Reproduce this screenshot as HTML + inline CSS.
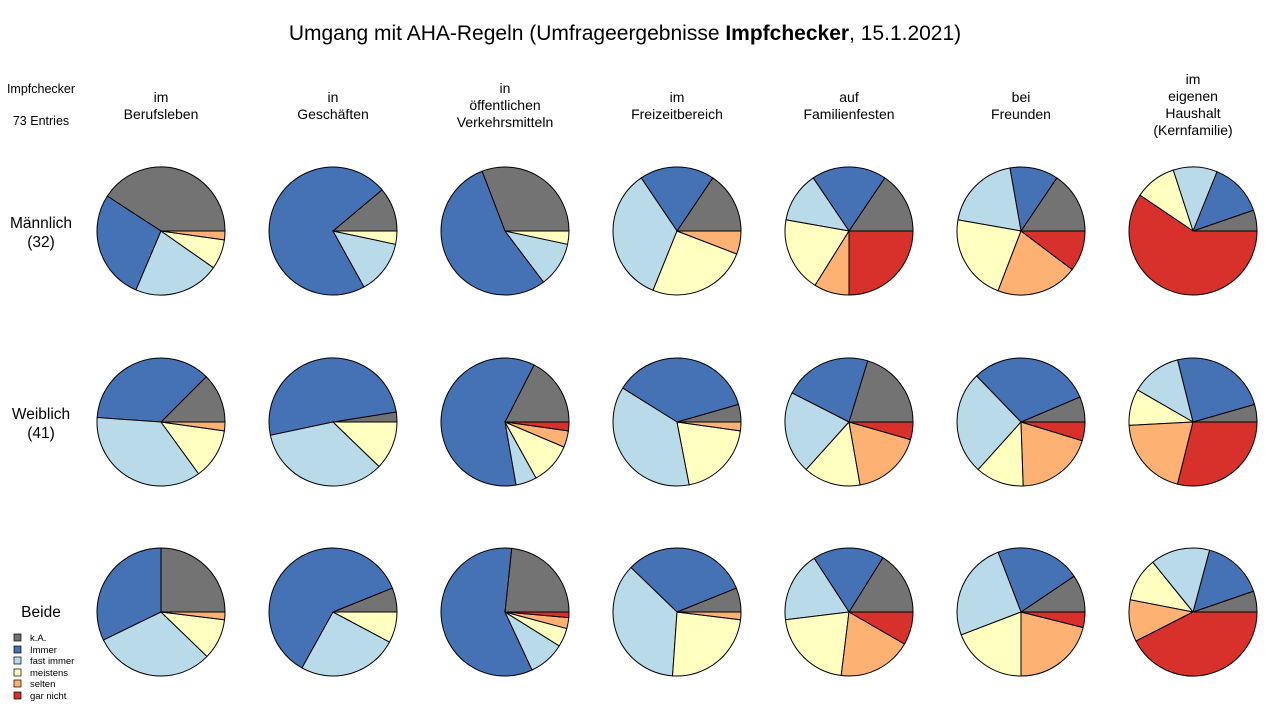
<!DOCTYPE html>
<html><head><meta charset="utf-8">
<style>
body{margin:0;width:1280px;height:720px;background:#fff;overflow:hidden;font-family:"Liberation Sans",Arial,sans-serif;}
</style></head><body>
<svg id="s" width="1280" height="720" xmlns="http://www.w3.org/2000/svg" font-family="Liberation Sans, Arial, sans-serif">
<text x="625" y="40" font-size="21" text-anchor="middle" fill="#000">Umgang mit AHA-Regeln (Umfrageergebnisse <tspan font-weight="bold">Impfchecker</tspan>, 15.1.2021)</text>
<g font-size="12.5" text-anchor="middle" fill="#000">
<text x="41" y="93">Impfchecker</text>
<text x="41" y="125">73 Entries</text>
</g>
<g font-size="14" text-anchor="middle" fill="#000">
<text x="161" y="102">im</text><text x="161" y="119">Berufsleben</text>
<text x="333" y="102">in</text><text x="333" y="119">Geschäften</text>
<text x="505" y="93">in</text><text x="505" y="110">öffentlichen</text><text x="505" y="127">Verkehrsmitteln</text>
<text x="677" y="102">im</text><text x="677" y="119">Freizeitbereich</text>
<text x="849" y="102">auf</text><text x="849" y="119">Familienfesten</text>
<text x="1021" y="102">bei</text><text x="1021" y="119">Freunden</text>
<text x="1193" y="84">im</text><text x="1193" y="101">eigenen</text><text x="1193" y="118">Haushalt</text><text x="1193" y="135">(Kernfamilie)</text>
</g>
<g font-size="15.5" text-anchor="middle" fill="#000">
<text x="41" y="228">Männlich</text><text x="41" y="247">(32)</text>
<text x="41" y="419">Weiblich</text><text x="41" y="438">(41)</text>
<text x="41" y="617">Beide</text>
</g>
<g font-size="9.5" fill="#000">
<rect x="14" y="634" width="7" height="7" fill="#737373" stroke="#000" stroke-width="0.7"/><text x="30" y="641">k.A.</text>
<rect x="14" y="646" width="7" height="7" fill="#4472b5" stroke="#000" stroke-width="0.7"/><text x="30" y="653">Immer</text>
<rect x="14" y="657" width="7" height="7" fill="#b9dbe9" stroke="#000" stroke-width="0.7"/><text x="30" y="664">fast immer</text>
<rect x="14" y="669" width="7" height="7" fill="#ffffbf" stroke="#000" stroke-width="0.7"/><text x="30" y="676">meistens</text>
<rect x="14" y="680" width="7" height="7" fill="#fdb173" stroke="#000" stroke-width="0.7"/><text x="30" y="687">selten</text>
<rect x="14" y="692" width="7" height="7" fill="#d8302a" stroke="#000" stroke-width="0.7"/><text x="30" y="699">gar nicht</text>
</g>
<g id="pies"></g>
</svg>
<script>
var cols=["#737373","#4472b5","#b9dbe9","#ffffbf","#fdb173","#d8302a"];
var xs=[161,333,505,677,849,1021,1193], ys=[231,422,612];
var D=[
[[147,247,325,352,360,360],[40,40,299,348,360,360],[111,111,307,348,360,360].map((v,i)=>i==0?111:v),[56,124,248,339,360,360],[56,124,170,238,270,360],[56,100,170,249,323,360],[19,68,108,146,146,360]],
[[45,176,306,352,360,360],[9,192,316,360,360,360],[63,280,299,337,352,360],[16,148,281,352,360,360],[73,153,228,280,344,360],[23,134,228,272,343,360],[16,104,150,183,256,360]],
[[90,206,316,353,360,360],[22,241,332,360,360,360],[84,295,328,345,355,360],[22,136,266,353,360,360],[58,123,187,263,330,360],[34,111,201,270,346,360],[19,75,129,169,207,360]]
];
D[0][1]=[40,299,348,360,360,360];
D[0][2]=[111,307,348,360,360,360];
var r=64,out="";
for(var row=0;row<3;row++)for(var c=0;c<7;c++){
 var cx=xs[c],cy=ys[row],b=D[row][c],prev=0;
 for(var k=0;k<6;k++){
  var a0=prev,a1=b[k];prev=a1;
  if(a1-a0<0.01)continue;
  var x0=cx+r*Math.cos(a0*Math.PI/180),y0=cy-r*Math.sin(a0*Math.PI/180);
  var x1=cx+r*Math.cos(a1*Math.PI/180),y1=cy-r*Math.sin(a1*Math.PI/180);
  var large=(a1-a0)>180?1:0;
  out+='<path d="M'+cx+','+cy+' L'+x0.toFixed(2)+','+y0.toFixed(2)+' A'+r+','+r+' 0 '+large+' 0 '+x1.toFixed(2)+','+y1.toFixed(2)+' Z" fill="'+cols[k]+'" stroke="#000" stroke-width="1"/>';
 }
}
document.getElementById("pies").innerHTML=out;
</script>
</body></html>
